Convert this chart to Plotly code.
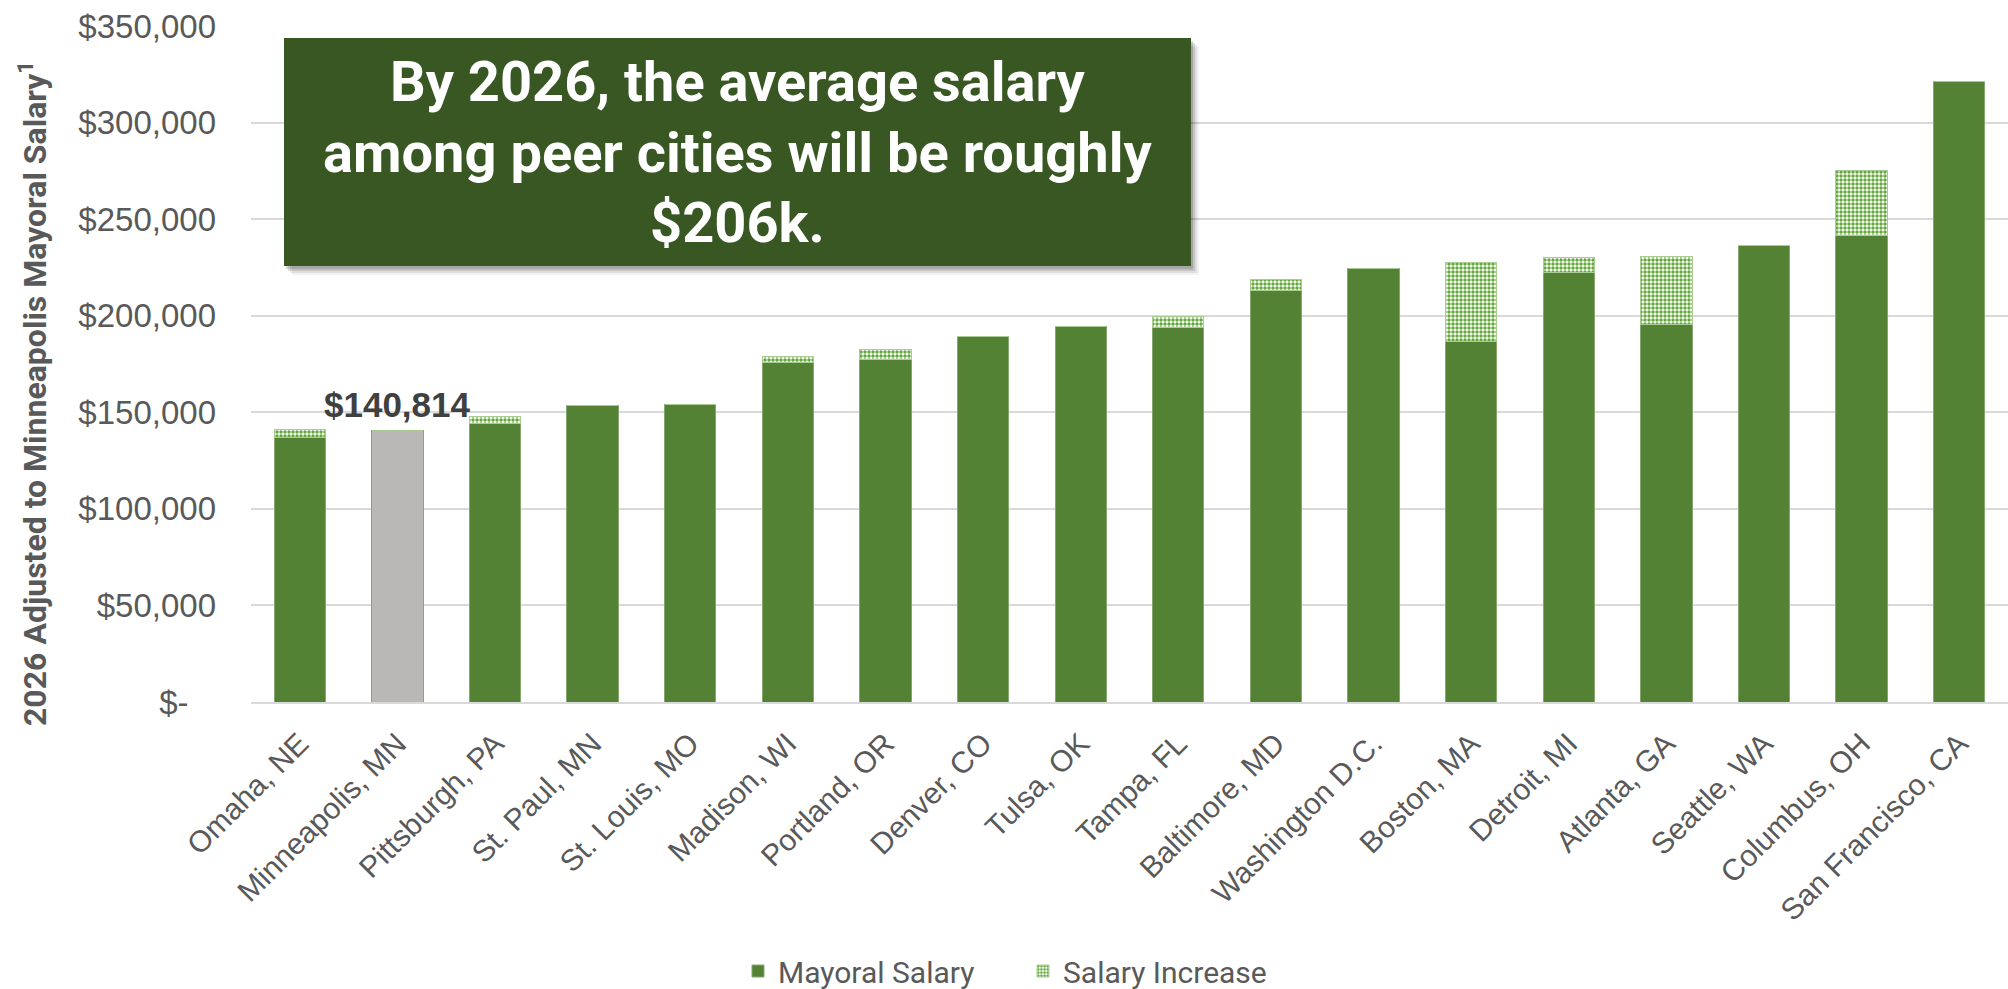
import plotly.graph_objects as go

cities = ["Omaha, NE", "Minneapolis, MN", "Pittsburgh, PA", "St. Paul, MN", "St. Louis, MO",
          "Madison, WI", "Portland, OR", "Denver, CO", "Tulsa, OK", "Tampa, FL", "Baltimore, MD",
          "Washington D.C.", "Boston, MA", "Detroit, MI", "Atlanta, GA", "Seattle, WA",
          "Columbus, OH", "San Francisco, CA"]
mayoral_salary = [136700, 140814, 144100, 153500, 153800, 175600, 177400, 189000, 194200,
                  193700, 213300, 224500, 186800, 222300, 195500, 236100, 241500, 321300]
salary_increase = [4300, 0, 3500, 0, 0, 3300, 5000, 0, 0, 5800, 5700, 0, 40600, 7800, 35300, 0,
                   33500, 0]
highlight_city = "Minneapolis, MN"
highlight_label = "$140,814"
tick_vals = [0, 50000, 100000, 150000, 200000, 250000, 300000, 350000]
tick_text = ["$-\u00a0\u00a0\u00a0", "$50,000", "$100,000", "$150,000", "$200,000", "$250,000",
             "$300,000", "$350,000"]
callout_lines = ["By 2026, the average salary", "among peer cities will be roughly", "$206k."]
y_title = "2026 Adjusted to Minneapolis Mayoral Salary<sup>1</sup>"

GREEN = "#548235"
GRAY_BAR = "#B9B8B6"
LIGHT_GREEN = "#66A83E"
BOX = "#385723"
TXT = "#595959"
COND = "Roboto, Liberation Sans, sans-serif"

W, H = 2008, 989
ML, MR, MT, MB = 251, 0, 26, 287
PW, PH = W - ML - MR, H - MT - MB


def px_x(x):
    return (x - ML) / PW


def px_y(y):
    return (H - MB - y) / PH


bar_colors = [GRAY_BAR if c == highlight_city else GREEN for c in cities]

fig = go.Figure()
fig.add_trace(go.Bar(
    x=cities, y=mayoral_salary, name="Mayoral Salary",
    marker=dict(color=bar_colors, line=dict(color="#86A870", width=1)),
    width=0.526,
))
fig.add_trace(go.Bar(
    x=cities, y=salary_increase, name="Salary Increase",
    marker=dict(color="white", line=dict(color="#A9CC92", width=1),
                pattern=dict(shape=".", fgcolor=LIGHT_GREEN, bgcolor="white",
                             size=4, solidity=0.6, fillmode="replace")),
    width=0.526,
))

fig.update_layout(
    barmode="stack",
    width=W, height=H,
    margin=dict(l=ML, r=MR, t=MT, b=MB, autoexpand=False),
    paper_bgcolor="white", plot_bgcolor="white",
    font=dict(family="Liberation Sans, Arial, sans-serif", color=TXT),
    showlegend=True,
    legend=dict(orientation="h", xref="container", yref="container", x=738 / W, y=18 / H,
                xanchor="left", yanchor="middle", entrywidth=240,
                font=dict(size=30, color=TXT, family=COND),
                traceorder="normal"),
)
fig.update_xaxes(
    type="category", range=[-0.5, len(cities) - 0.5], tickangle=-45,
    tickfont=dict(size=30, color=TXT), showgrid=False, automargin=False,
    showline=True, linecolor="#D9D9D9", linewidth=2, ticks="",
    ticklabelstandoff=10,
)
fig.update_yaxes(
    range=[0, 350000], tickvals=tick_vals, ticktext=tick_text, automargin=False,
    tickfont=dict(size=33, color=TXT), showgrid=True, gridcolor="#D9D9D9", gridwidth=2,
    zeroline=False, showline=False, ticks="", ticklabelstandoff=34,
)

# Y title
fig.add_annotation(
    xref="paper", yref="paper", x=px_x(33), y=px_y(394), text=y_title,
    textangle=-90, showarrow=False, xanchor="center", yanchor="middle",
    font=dict(size=32, color=TXT, family=COND, weight="bold"),
)

# Highlight label
fig.add_annotation(
    x=highlight_city, y=mayoral_salary[cities.index(highlight_city)], text="<b>" + highlight_label + "</b>",
    showarrow=False, yanchor="bottom", yshift=4,
    font=dict(size=35, color="#404040", family="Liberation Sans, Arial, sans-serif"),
)

# Callout box with soft shadow
bx0, bx1, by0, by1 = 284, 1191, 38, 266
for off, alpha in [(9, 0.05), (7, 0.08), (5, 0.12), (3, 0.15)]:
    fig.add_shape(type="rect", xref="paper", yref="paper",
                  x0=px_x(bx0 + off - 1), x1=px_x(bx1 + off - 1),
                  y0=px_y(by1 + off), y1=px_y(by0 + off),
                  fillcolor=f"rgba(0,0,0,{alpha})", line=dict(width=0), layer="above")
fig.add_shape(type="rect", xref="paper", yref="paper",
              x0=px_x(bx0), x1=px_x(bx1), y0=px_y(by1), y1=px_y(by0),
              fillcolor=BOX, line=dict(width=0), layer="above")
line_centers = [82, 153, 223]
for txt, cy in zip(callout_lines, line_centers):
    fig.add_annotation(
        xref="paper", yref="paper", x=px_x((bx0 + bx1) / 2), y=px_y(cy), text=txt,
        showarrow=False, xanchor="center", yanchor="middle",
        font=dict(size=56, color="white", family=COND, weight="bold"),
    )

fig.write_html(
    "out.html",
    config={"displayModeBar": False},
    post_script="document.body.style.margin='0px';document.body.style.overflow='hidden';",
)
